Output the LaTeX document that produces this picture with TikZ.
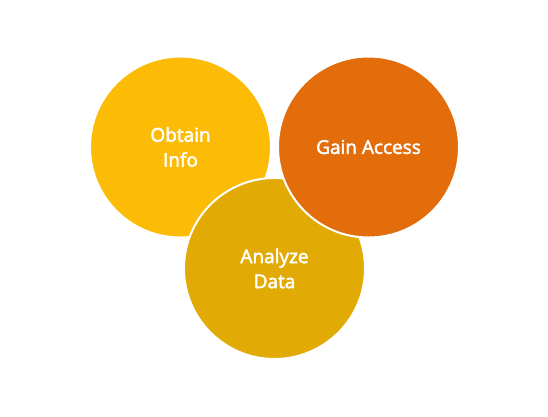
\documentclass[tikz,border=0pt]{standalone}
\usepackage{fontspec}
\setmainfont{Open Sans}
\newfontfamily\labelfont[FakeBold=2.5]{Open Sans}
\definecolor{cobtain}{RGB}{252,187,4}
\definecolor{canalyze}{RGB}{226,170,4}
\definecolor{cgain}{RGB}{227,108,11}
\begin{document}
\begin{tikzpicture}[x=1pt,y=1pt,
  bubble/.style={circle, minimum size=181pt, inner sep=0pt, draw=white, line width=2pt,
    text=white, font=\labelfont\fontsize{19}{25}\selectfont, align=center}]
\useasboundingbox (0,0) rectangle (548,-416);
\node[bubble, fill=cobtain] (obtain) at (180.5,-147) {Obtain\\Info};
\node[bubble, fill=canalyze] (analyze) at (274.5,-268.5) {Analyze\\Data};
\node[bubble, fill=cgain] (gain) at (368.5,-147) {Gain Access};
\end{tikzpicture}
\end{document}
